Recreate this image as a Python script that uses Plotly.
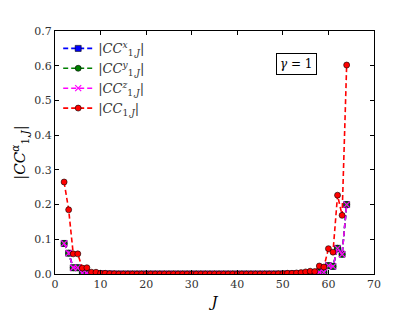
import plotly.graph_objects as go

J = list(range(2, 65))

cc_x = [0.088, 0.060, 0.018, 0.018, 0.003, 0.003, 0.001, 0.001, 0.0005, 0.0003,
        0.0002, 0.0001, 0.0, 0.0, 0.0, 0.0, 0.0, 0.0, 0.0, 0.0,
        0.0, 0.0, 0.0, 0.0, 0.0, 0.0, 0.0, 0.0, 0.0, 0.0,
        0.0, 0.0, 0.0, 0.0, 0.0, 0.0, 0.0, 0.0, 0.0, 0.0,
        0.0, 0.0, 0.0, 0.0, 0.0, 0.0, 0.0, 0.0, 0.0001, 0.0002,
        0.0003, 0.0005, 0.001, 0.001, 0.001, 0.001, 0.005, 0.005, 0.024, 0.022,
        0.074, 0.057, 0.200]
cc_y = [0.088, 0.060, 0.018, 0.018, 0.003, 0.003, 0.001, 0.001, 0.0005, 0.0003,
        0.0002, 0.0001, 0.0, 0.0, 0.0, 0.0, 0.0, 0.0, 0.0, 0.0,
        0.0, 0.0, 0.0, 0.0, 0.0, 0.0, 0.0, 0.0, 0.0, 0.0,
        0.0, 0.0, 0.0, 0.0, 0.0, 0.0, 0.0, 0.0, 0.0, 0.0,
        0.0, 0.0, 0.0, 0.0, 0.0, 0.0, 0.0, 0.0, 0.0001, 0.0002,
        0.0003, 0.0005, 0.001, 0.001, 0.001, 0.001, 0.005, 0.005, 0.024, 0.022,
        0.074, 0.057, 0.200]
cc_z = [0.088, 0.060, 0.018, 0.018, 0.003, 0.003, 0.001, 0.001, 0.0005, 0.0003,
        0.0002, 0.0001, 0.0, 0.0, 0.0, 0.0, 0.0, 0.0, 0.0, 0.0,
        0.0, 0.0, 0.0, 0.0, 0.0, 0.0, 0.0, 0.0, 0.0, 0.0,
        0.0, 0.0, 0.0, 0.0, 0.0, 0.0, 0.0, 0.0, 0.0, 0.0,
        0.0, 0.0, 0.0, 0.0, 0.0, 0.0, 0.0, 0.0, 0.0001, 0.0002,
        0.0003, 0.0005, 0.001, 0.001, 0.001, 0.001, 0.005, 0.005, 0.024, 0.022,
        0.074, 0.057, 0.200]
cc_tot = [0.265, 0.185, 0.058, 0.058, 0.017, 0.018, 0.005, 0.005, 0.002, 0.002,
          0.001, 0.0005, 0.0, 0.0, 0.0, 0.0, 0.0, 0.0, 0.0, 0.0,
          0.0, 0.0, 0.0, 0.0, 0.0, 0.0, 0.0, 0.0, 0.0, 0.0,
          0.0, 0.0, 0.0, 0.0, 0.0, 0.0, 0.0, 0.0, 0.0, 0.0,
          0.0, 0.0, 0.0, 0.0, 0.0, 0.0, 0.0, 0.0005, 0.001, 0.002,
          0.002, 0.003, 0.004, 0.006, 0.008, 0.007, 0.023, 0.020, 0.073, 0.063,
          0.227, 0.169, 0.602]

names = ["|<i>CC</i><sup><i>x</i></sup><sub>1,<i>J</i></sub>|",
         "|<i>CC</i><sup><i>y</i></sup><sub>1,<i>J</i></sub>|",
         "|<i>CC</i><sup><i>z</i></sup><sub>1,<i>J</i></sub>|",
         "|<i>CC</i><sub>1,<i>J</i></sub>|"]

FONT = "DejaVu Serif"
fig = go.Figure()
fig.add_trace(go.Scatter(
    x=J, y=cc_x, name=names[0], mode="lines+markers",
    line=dict(color="#0000ff", width=1.6, dash="5px,3px"),
    marker=dict(symbol="square", size=6, color="#0000ff", line=dict(color="black", width=0.6))))
fig.add_trace(go.Scatter(
    x=J, y=cc_y, name=names[1], mode="lines+markers",
    line=dict(color="#008000", width=1.6, dash="5px,3px"),
    marker=dict(symbol="circle", size=6, color="#008000", line=dict(color="black", width=0.6))))
fig.add_trace(go.Scatter(
    x=J, y=cc_z, name=names[2], mode="lines+markers",
    line=dict(color="#ff00ff", width=1.6, dash="5px,3px"),
    marker=dict(symbol="x-thin-open", size=6, color="#ff00ff", line=dict(color="#ff00ff", width=1.2))))
fig.add_trace(go.Scatter(
    x=J, y=cc_tot, name=names[3], mode="lines+markers",
    line=dict(color="#ff0000", width=1.6, dash="5px,3px"),
    marker=dict(symbol="circle", size=6, color="#ff0000", line=dict(color="black", width=0.6))))

axis_common = dict(showgrid=False, zeroline=False, showline=True, linecolor="black",
                   linewidth=1.2, mirror="ticks", ticks="inside", ticklen=4,
                   tickcolor="black", tickfont=dict(family=FONT, size=11, color="#333"))
fig.update_xaxes(range=[0, 70], dtick=10, **axis_common,
                 title=dict(text="<i>J</i>", font=dict(family=FONT, size=15, color="black"),
                            standoff=6))
fig.update_yaxes(range=[0, 0.7], dtick=0.1, tickformat=".1f", **axis_common,
                 title=dict(text="|<i>CC</i><sup><i>α</i></sup><sub>1,<i>J</i></sub>|",
                            font=dict(family=FONT, size=15, color="black"), standoff=4))

fig.add_annotation(x=0.758, y=0.864, xref="paper", yref="paper",
                   xanchor="center", yanchor="middle",
                   text="<i>γ</i> = 1", showarrow=False,
                   font=dict(family=FONT, size=12, color="black"),
                   bordercolor="black", borderwidth=1, borderpad=3, bgcolor="white")

# page body adds an 8px offset, margins compensate so the plot area lands at (52..374, 31..274)
fig.update_layout(
    width=415, height=312,
    margin=dict(l=44, r=49, t=23, b=46),
    plot_bgcolor="white", paper_bgcolor="white",
    showlegend=True,
    legend=dict(x=0.01, y=0.99, xanchor="left", yanchor="top",
                bgcolor="rgba(0,0,0,0)", borderwidth=0,
                font=dict(family=FONT, size=13, color="#333"),
                itemwidth=30, tracegroupgap=0),
)

fig.write_html("out.html")
